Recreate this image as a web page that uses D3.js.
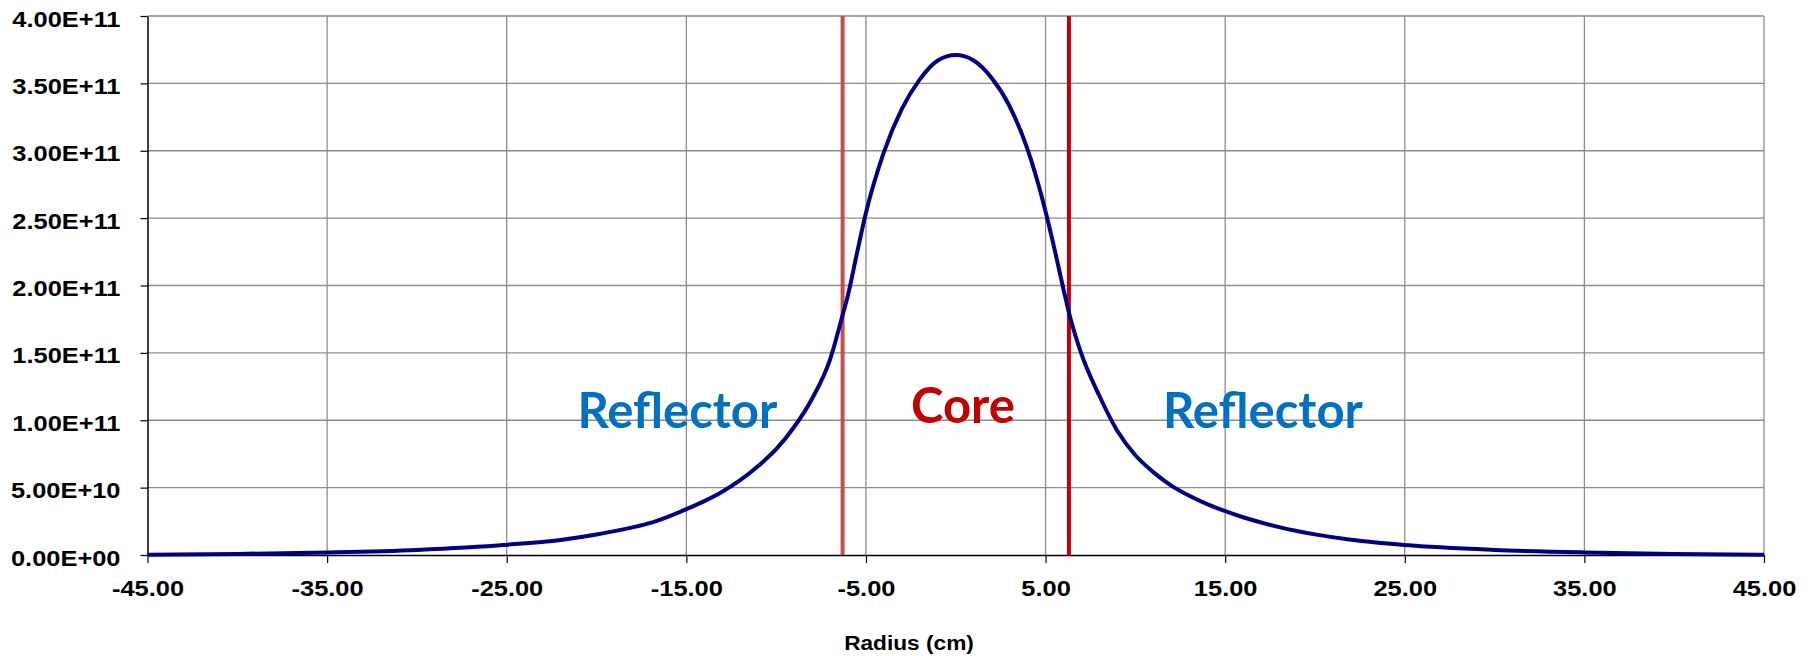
<!DOCTYPE html>
<html>
<head>
<meta charset="utf-8">
<script src="https://cdn.jsdelivr.net/npm/d3@7"></script>
<style>
  body { margin: 0; background: #fff; }
  svg { display: block; }
</style>
</head>
<body>
<div id="chart"></div>
<script>
// radius (cm) and flux values
const radius = [-45, -40, -35, -30, -25, -22, -20, -18, -17, -16, -15, -14, -13, -12, -11, -10, -9, -8, -7, -6.3,
  -6, -5.5, -5, -4, -3, -2, -1, 0, 1, 2, 3, 4, 5, 5.5, 6, 6.3,
  7, 8, 9, 10, 11, 12, 13, 14, 15, 16, 17, 18, 19, 20, 22, 25, 30, 35, 40, 45];
const flux = [0.002, 0.008, 0.019, 0.038, 0.076, 0.112, 0.152, 0.205, 0.238, 0.285, 0.34, 0.40, 0.47, 0.555, 0.66, 0.785, 0.95, 1.16, 1.45, 1.78,
  1.93, 2.24, 2.54, 2.99, 3.31, 3.53, 3.67, 3.71, 3.67, 3.54, 3.33, 3.01, 2.55, 2.27, 1.97, 1.80,
  1.49, 1.18, 0.92, 0.74, 0.615, 0.515, 0.44, 0.378, 0.325, 0.28, 0.241, 0.207, 0.178, 0.153, 0.113, 0.074, 0.038, 0.019, 0.008, 0.002].map(v => v * 1e11);

const xTicks = [-45, -35, -25, -15, -5, 5, 15, 25, 35, 45];
const yTicks = [0, 0.5e11, 1e11, 1.5e11, 2e11, 2.5e11, 3e11, 3.5e11, 4e11];
const coreEdges = [-6.3, 6.3];
const regionNames = ["Reflector", "Core", "Reflector"];
const xTitle = "Radius (cm)";

const width = 1813, height = 656;
const margin = { top: 16, right: 49, bottom: 101, left: 147.5 };

const svg = d3.select("#chart").append("svg").attr("width", width).attr("height", height);

const x = d3.scaleLinear().domain([-45, 45]).range([margin.left, width - margin.right]);
const y = d3.scaleLinear().domain([0, 4e11]).range([height - margin.bottom, margin.top]);

function sci(v) {
    if (v === 0) return "0.00E+00";
    let e = Math.floor(Math.log10(v));
    let m = v / Math.pow(10, e);
    return m.toFixed(2) + "E+" + String(e).padStart(2, "0");
}

// gridlines
svg.append("g").selectAll("line").data(yTicks.slice(1)).join("line")
    .attr("x1", margin.left).attr("x2", width - margin.right)
    .attr("y1", d => y(d)).attr("y2", d => y(d))
    .attr("stroke", "#8c8c8c").attr("stroke-width", 1.3);
svg.append("g").selectAll("line").data(xTicks.slice(1)).join("line")
    .attr("x1", d => x(d)).attr("x2", d => x(d))
    .attr("y1", margin.top).attr("y2", height - margin.bottom)
    .attr("stroke", "#8c8c8c").attr("stroke-width", 1.3);

// axes
const xAxis = svg.append("g").attr("transform", `translate(0,${y(0)})`)
    .call(d3.axisBottom(x).tickValues(xTicks).tickFormat(d => d.toFixed(2)).tickSize(8).tickSizeOuter(0));
const yAxis = svg.append("g").attr("transform", `translate(${x(-45)},0)`)
    .call(d3.axisLeft(y).tickValues(yTicks).tickFormat(sci).tickSize(7).tickSizeOuter(0));

[xAxis, yAxis].forEach(a => {
    a.selectAll(".domain").attr("stroke", "#000").attr("stroke-width", 1.5);
    a.selectAll(".tick line").attr("stroke", "#000").attr("stroke-width", 1.2);
    a.selectAll("text").attr("font-family", "'Liberation Sans', Arial, sans-serif")
        .attr("font-weight", "bold").attr("font-size", "22.5px").attr("fill", "#000");
});
xAxis.selectAll(".tick text").attr("dy", null).attr("y", 0)
    .attr("transform", "translate(0,41) scale(1.13,1)");
yAxis.selectAll(".tick text").attr("dy", null).attr("x", 0)
    .attr("transform", "translate(-27,10) scale(1.13,1)");

svg.append("text").attr("x", 909).attr("y", 650)
    .attr("text-anchor", "middle")
    .attr("font-family", "'Liberation Sans', Arial, sans-serif")
    .attr("font-weight", "bold").attr("font-size", "21px")
    .attr("transform", "translate(909,0) scale(1.08,1) translate(-909,0)")
    .text(xTitle);

// core boundary lines
svg.append("g").selectAll("line").data(coreEdges).join("line")
    .attr("x1", d => x(d)).attr("x2", d => x(d))
    .attr("y1", margin.top).attr("y2", y(0))
    .attr("stroke", (d, i) => i === 0 ? "#c0504d" : "#c00000")
    .attr("stroke-width", 4);

// flux curve
const line = d3.line().x(d => x(d[0])).y(d => y(d[1])).curve(d3.curveMonotoneX);
svg.append("path").datum(d3.zip(radius, flux))
    .attr("d", line).attr("fill", "none")
    .attr("stroke", "#000080").attr("stroke-width", 4).attr("stroke-linejoin", "round");

// region labels
const labelX = [-15.5, 0.4, 17.1];
const labelY = [0.94e11, 0.98e11, 0.94e11];
svg.append("g").selectAll("text").data(regionNames).join("text")
    .attr("x", (d, i) => x(labelX[i])).attr("y", (d, i) => y(labelY[i]))
    .attr("text-anchor", "middle")
    .attr("font-family", "Lato, 'Open Sans', sans-serif")
    .attr("font-weight", "bold").attr("font-size", "49px")
    .attr("fill", (d, i) => i === 1 ? "#c00000" : "#0070c0")
    .text(d => d);
</script>
</body>
</html>
